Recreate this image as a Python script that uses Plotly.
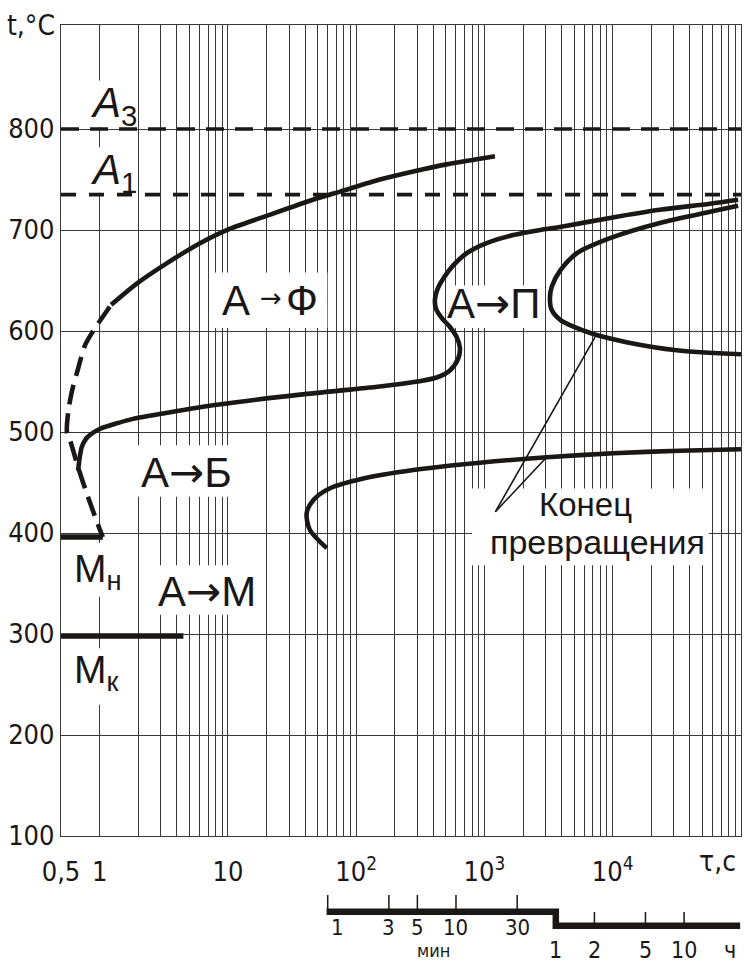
import math
import plotly.graph_objects as go

# ---------------- data ----------------
# critical temperatures, °C
A3_TEMP = 800
A1_TEMP = 735
MN_TEMP = 396
MK_TEMP = 298

# ferrite precipitation start (solid branch), time s / temperature °C
ferrite_t = [1.23, 1.95, 3.33, 6.06, 9.8, 20, 46, 62, 75, 153, 279, 507, 1207]
ferrite_T = [626, 647, 667, 687, 700, 714, 730, 735, 738, 750, 758, 765, 773]

# transformation start near the nose (dashed branch)
nose_t = [1.2, 0.88, 0.77, 0.67, 0.61, 0.568, 0.557, 0.588, 0.68, 0.81, 1.0, 1.06]
nose_T = [624, 599, 586, 560, 541, 519, 499, 492, 465, 436, 404, 396]

# start of bainite / pearlite transformation
start_t = [0.68, 0.70, 0.725, 0.78, 0.84, 1.0, 1.4, 1.82, 3.35, 8.2, 36.6, 153, 300,
           424, 538, 625, 644, 607, 538, 464, 419, 411, 429, 478, 571, 727,
           1040, 1680, 2710, 3880, 9530, 23300, 57300, 95000]
start_T = [462, 475, 485, 493, 497, 503, 509, 513, 519, 527, 537, 545, 550,
           554, 561, 573, 583, 594, 604, 613, 622, 631, 641, 652, 665, 677,
           687, 695, 700, 703, 712, 720, 726, 730]

# end of pearlite transformation
pearl_end_t = [95000, 57300, 23300, 9530, 5240, 3900, 3350, 3240, 3340, 3900,
               5000, 7050, 12800, 31500, 100000]
pearl_end_T = [724, 718, 707, 692, 677, 660, 644, 633, 621, 611,
               604, 597, 589, 581, 577]

# end of bainite transformation
bain_end_t = [59, 43.6, 41.1, 46.4, 62.5, 113.5, 279, 923, 3050, 10100, 33400, 100000]
bain_end_T = [385, 403, 419.5, 432.7, 444.3, 454, 462.4, 469.6, 475, 479, 481.5, 483]

# martensite start / finish lines (time span, s)
mn_t = [0.5, 1.06]
mk_t = [0.5, 4.5]

# leader lines of the "Конец превращения" caption
leader_from = (1216, 421)
leader_to = [(7280, 594), (3050, 475)]

# axis ticks
x_ticks = [0.5, 1, 10, 100, 1000, 10000]
x_ticktext = ["0,5", "1", "10", "10<sup>2</sup>", "10<sup>3</sup>", "10<sup>4</sup>"]
y_ticks = [100, 200, 300, 400, 500, 600, 700, 800]
X_RANGE = (0.5, 1e5)
Y_RANGE = (100, 903)

# auxiliary time scale
minute_marks = [1, 3, 5, 10, 30]
hour_marks = [1, 2, 5, 10]

NARROW = "DejaVu Sans Condensed, Liberation Sans Narrow, Arial Narrow, sans-serif"
REGULAR = "Liberation Sans, Arial, Helvetica, sans-serif"
ARROW = "<span style='font-family:DejaVu Sans'>→</span>"
INK = "#1a1716"
GRID = "#3a3a3a"

fig = go.Figure()


def curve(t, T, width=4.6, dash=None, shape="spline", xa="x", ya="y"):
    fig.add_trace(go.Scatter(
        x=t, y=T, mode="lines", xaxis=xa, yaxis=ya,
        line=dict(color=INK, width=width, dash=dash, shape=shape, smoothing=0.8),
        hoverinfo="skip", showlegend=False))


# critical point lines
curve(list(X_RANGE), [A3_TEMP, A3_TEMP], width=3.6, dash="18px,11px", shape="linear")
curve(list(X_RANGE), [A1_TEMP, A1_TEMP], width=3.6, dash="15px,13px", shape="linear")

# C-curves
curve(ferrite_t, ferrite_T)
curve(nose_t, nose_T, dash="20px,9px")
curve(start_t, start_T)
curve(pearl_end_t, pearl_end_T)
curve(bain_end_t, bain_end_T)

# martensite lines
curve(mn_t, [MN_TEMP, MN_TEMP], width=5.5, shape="linear")
curve(mk_t, [MK_TEMP, MK_TEMP], width=5.5, shape="linear")

# leader lines
for tx, ty in leader_to:
    curve([leader_from[0], tx], [leader_from[1], ty], width=1.6, shape="linear")

# ---------- auxiliary minutes / hours scale ----------
min_s = [m * 60 for m in minute_marks]
hour_s = [h * 3600 for h in hour_marks]
BAR1, BAR2 = 0.456, 0.331
curve([min_s[0] * 0.98, hour_s[0], hour_s[0], X_RANGE[1] * 0.985],
      [BAR1, BAR1, BAR2, BAR2], width=6.5, shape="linear", xa="x2", ya="y2")
for s in min_s:
    curve([s, s], [BAR1, 0.604], width=1.5, shape="linear", xa="x2", ya="y2")
for s in hour_s[1:]:
    curve([s, s], [BAR2, 0.453], width=1.5, shape="linear", xa="x2", ya="y2")

SCALE_FONT = dict(family=NARROW, size=23, color=INK)
annotations = []
for i, (m, s) in enumerate(zip(minute_marks, min_s)):
    annotations.append(dict(x=math.log10(s), y=0.315, xref="x2", yref="y2", text=str(m),
                            showarrow=False, xshift=10 if i == 0 else 0,
                            font=dict(family=NARROW, size=22, color=INK)))
for h, s in zip(hour_marks, hour_s):
    annotations.append(dict(x=math.log10(s), y=0.118, xref="x2", yref="y2", text=str(h),
                            showarrow=False, font=SCALE_FONT))
annotations.append(dict(x=math.log10(82000), y=0.118, xref="x2", yref="y2", text="ч",
                        showarrow=False, font=SCALE_FONT))
annotations.append(dict(x=math.log10(400), y=0.112, xref="x2", yref="y2", text="мин",
                        showarrow=False, font=dict(family=NARROW, size=18, color=INK)))

# ---------- white label boxes (hide the grid behind captions) ----------
boxes = [
    (0.77, 1.89, 802, 848),      # A3
    (0.77, 1.89, 737, 782),      # A1
    (7.5, 59.6, 603, 658),       # А→Ф
    (510, 2800, 603, 645),       # А→П
    (1.58, 15.4, 436, 487),      # А→Б
    (2.26, 19.5, 319, 368),      # А→М
    (0.54, 1.67, 337, 390),      # Мн
    (0.54, 1.67, 230, 286),      # Мк
    (800, 56000, 368, 444),      # Конец превращения
]
shapes = []
for x0, x1, y0, y1 in boxes:
    shapes.append(dict(type="rect", xref="x", yref="y", x0=x0, x1=x1, y0=y0, y1=y1,
                       fillcolor="white", line=dict(width=0), layer="between"))


# ---------- captions ----------
def label(x, y, text, size=42, family=REGULAR, xanchor="center", yanchor="middle"):
    annotations.append(dict(x=math.log10(x), y=y, xref="x", yref="y", text=text,
                            showarrow=False, xanchor=xanchor, yanchor=yanchor,
                            font=dict(family=family, size=size, color=INK)))


label(0.81, 823, "<i>A</i><sub>3</sub>", size=42, xanchor="left")
label(0.81, 757, "<i>A</i><sub>1</sub>", size=42, xanchor="left")
# А → Ф with a small arrow between the letters
label(11.6, 630, "А")
label(21.7, 633, ARROW, size=26)
label(37.9, 630, "Ф")
label(1186, 627, "А" + ARROW + "П")
label(4.73, 460, "А" + ARROW + "Б")
label(6.87, 342, "А" + ARROW + "М")
label(0.61, 362, "М<sub>н</sub>", size=39, xanchor="left")
label(0.61, 262, "М<sub>к</sub>", size=39, xanchor="left")
label(6080, 428, "Конец", size=33)
label(7550, 391, "превращения", size=34)

# axis titles
annotations.append(dict(xref="x domain", yref="y domain", x=-0.006, y=1.0, text="t,°C",
                        xanchor="right", yanchor="middle", showarrow=False,
                        font=dict(family=NARROW, size=28, color=INK)))
annotations.append(dict(xref="x domain", yref="y domain", x=0.995, y=-0.032, text="τ,c",
                        xanchor="right", yanchor="middle", showarrow=False,
                        font=dict(family=NARROW, size=28, color=INK)))

minor_vals = [k * 10 ** n for n in range(0, 5) for k in range(2, 10)]

fig.update_layout(
    width=747, height=963,
    margin=dict(l=61, r=6, t=25, b=0, autoexpand=False),
    paper_bgcolor="white", plot_bgcolor="white",
    showlegend=False,
    shapes=shapes, annotations=annotations,
    xaxis=dict(type="log", range=[math.log10(X_RANGE[0]), math.log10(X_RANGE[1])],
               domain=[0, 1], anchor="y", automargin=False,
               tickmode="array", tickvals=x_ticks, ticktext=x_ticktext,
               ticks="", ticklabelstandoff=12,
               tickfont=dict(family=NARROW, size=27, color=INK),
               showgrid=True, gridcolor=GRID, gridwidth=1,
               minor=dict(tickvals=minor_vals, showgrid=True, gridcolor=GRID, gridwidth=1,
                          ticks=""),
               showline=True, linecolor=GRID, linewidth=1.2, mirror=True, zeroline=False),
    yaxis=dict(range=list(Y_RANGE), domain=[0.1354, 1], anchor="x", automargin=False,
               tickmode="array", tickvals=y_ticks, ticks="", ticklabelstandoff=0,
               tickfont=dict(family=NARROW, size=27, color=INK),
               showgrid=True, gridcolor=GRID, gridwidth=1,
               showline=True, linecolor=GRID, linewidth=1.2, mirror=True, zeroline=False),
    xaxis2=dict(type="log", range=[math.log10(X_RANGE[0]), math.log10(X_RANGE[1])],
                domain=[0, 1], anchor="y2", visible=False, showgrid=False, automargin=False),
    yaxis2=dict(range=[0, 1], domain=[0, 0.12], anchor="x2", visible=False, showgrid=False,
                automargin=False),
)

fig.write_html("out.html")
